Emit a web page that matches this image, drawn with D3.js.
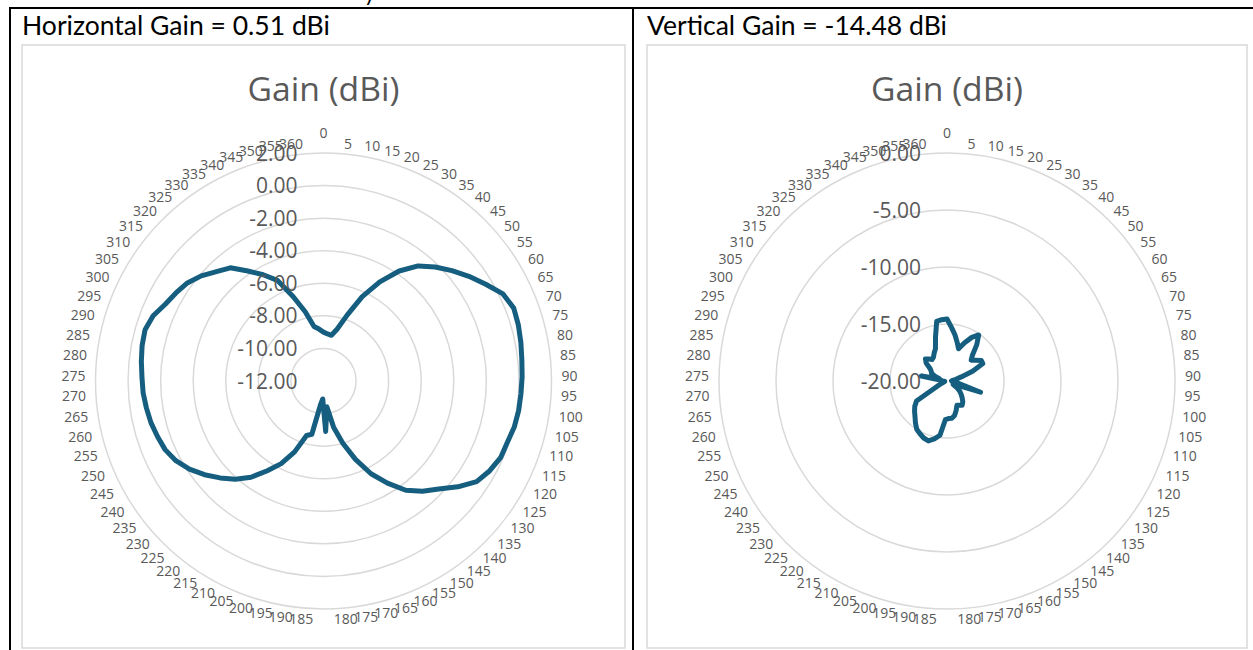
<!DOCTYPE html>
<html>
<head>
<meta charset="utf-8">
<script src="https://cdn.jsdelivr.net/npm/d3@7"></script>
<style>
  html, body { margin: 0; padding: 0; background: #ffffff; }
  svg { display: block; }
</style>
</head>
<body>
<svg id="chart" width="1253" height="650"></svg>
<script>
// ---------------- DATA ----------------
const categories = [0,5,10,15,20,25,30,35,40,45,50,55,60,65,70,75,80,85,90,95,100,105,110,115,120,125,130,135,140,145,150,155,160,165,170,175,180,185,190,195,200,205,210,215,220,225,230,235,240,245,250,255,260,265,270,275,280,285,290,295,300,305,310,315,320,325,330,335,340,345,350,355,360];

const horizontalGain = [-9.0,-9.1,-9.15,-8.7,-7.7,-6.3,-5.0,-3.8,-2.85,-2.2,-1.6,-1.0,-0.4,0.25,0.51,0.45,0.35,0.25,0.2,0.15,0.12,0.05,-0.1,-0.15,-0.4,-0.75,-1.5,-2.3,-2.9,-3.6,-4.6,-5.6,-6.8,-8.0,-9.1,-10.4,-8.9,-10.9,-10.5,-8.65,-8.5,-7.3,-6.3,-5.5,-4.6,-3.9,-3.3,-2.7,-2.15,-1.7,-1.4,-1.25,-1.1,-1.0,-0.9,-0.85,-0.75,-0.65,-0.6,-0.8,-1.2,-1.45,-1.7,-2.1,-2.6,-3.0,-3.8,-4.5,-5.2,-6.5,-7.6,-8.6,-8.8];

const verticalGain = [-14.56,-15.3,-15.9,-16.5,-17.0,-16.3,-15.6,-15.1,-15.9,-16.8,-17.2,-16.9,-16.5,-16.5,-17.6,-18.7,-19.2,-19.5,-19.6,-19.5,-19.2,-18.75,-16.9,-19.2,-19.4,-19.0,-18.6,-18.3,-18.0,-17.7,-17.5,-17.6,-17.7,-17.3,-16.9,-16.7,-16.7,-16.6,-15.2,-14.8,-14.5,-14.6,-14.8,-15.0,-15.4,-15.8,-16.1,-16.4,-16.8,-19.0,-19.5,-19.7,-19.8,-19.8,-19.8,-19.6,-19.5,-17.7,-19.3,-18.9,-18.5,-18.4,-18.2,-17.6,-17.3,-17.5,-17.7,-17.6,-17.3,-17.0,-16.05,-14.7,-14.6];

const horizontalTicks = [-12,-10,-8,-6,-4,-2,0,2];
const verticalTicks = [-20,-15,-10,-5,0];

const panelHeaders = ["Horizontal Gain = 0.51 dBi", "Vertical Gain = -14.48 dBi"];
const chartTitle = "Gain (dBi)";

// ---------------- LAYOUT ----------------
const svg = d3.select("#chart");
const GREY_TXT = "#595959";
const GRID = "#d9d9d9";
const LINE = "#165e80";
const R = 228;

// table borders
svg.append("line").attr("x1", 9).attr("x2", 1253).attr("y1", 8).attr("y2", 8)
  .attr("stroke", "#000").attr("stroke-width", 2);
svg.append("line").attr("x1", 10).attr("x2", 10).attr("y1", 7).attr("y2", 650)
  .attr("stroke", "#000").attr("stroke-width", 2);
svg.append("line").attr("x1", 633).attr("x2", 633).attr("y1", 7).attr("y2", 650)
  .attr("stroke", "#000").attr("stroke-width", 2);

// descender of cut-off text above the table
svg.append("text").attr("x", 364).attr("y", 1)
  .attr("font-family", "Lato, 'Liberation Sans', sans-serif").attr("font-size", 22)
  .attr("fill", "#000").text("y");

function fitText(sel, width) {
  const len = sel.node().getComputedTextLength();
  const fs = parseFloat(sel.attr("font-size"));
  sel.attr("font-size", fs * width / len);
}

function panel(opts) {
  const { boxX, boxW, header, headerW, data, ticks } = opts;
  const g = svg.append("g");
  const h = g.append("text").attr("x", boxX).attr("y", 35)
    .attr("font-family", "Lato, 'Liberation Sans', sans-serif").attr("font-size", 22)
    .attr("fill", "#000").text(header);
  fitText(h, headerW);

  // chart area border
  g.append("rect").attr("x", boxX).attr("y", 45).attr("width", boxW).attr("height", 603)
    .attr("fill", "#fff").attr("stroke", GRID).attr("stroke-width", 1.5);

  const cx = boxX + boxW / 2, cy = 381;

  const t = g.append("text").attr("x", cx).attr("y", 101).attr("text-anchor", "middle")
    .attr("font-family", "'Open Sans', sans-serif").attr("font-size", 30)
    .attr("fill", GREY_TXT).text(chartTitle);
  fitText(t, 152);

  const rScale = d3.scaleLinear().domain(d3.extent(ticks)).range([0, R]);
  const aScale = d3.scaleLinear().domain([0, categories.length]).range([0, 2 * Math.PI]);

  const c = g.append("g").attr("transform", `translate(${cx},${cy})`);

  // rings
  c.selectAll("circle.ring").data(ticks.filter(v => rScale(v) > 0)).join("circle")
    .attr("class", "ring").attr("r", d => rScale(d))
    .attr("fill", "none").attr("stroke", GRID).attr("stroke-width", 1.5);

  // category labels
  const LR = R + 10;
  c.selectAll("text.cat").data(categories).join("text")
    .attr("class", "cat")
    .attr("x", (d, i) => LR * Math.sin(aScale(i)))
    .attr("y", (d, i) => i === 0 ? -LR - 5 : -LR * Math.cos(aScale(i)))
    .attr("dy", (d, i) => i === 0 ? 0 : "0.35em")
    .attr("text-anchor", (d, i) => i === 0 ? "middle" : (Math.sin(aScale(i)) > 0 ? "start" : "end"))
    .attr("font-family", "'Open Sans', sans-serif").attr("font-size", 14)
    .attr("fill", GREY_TXT).text(d => d);

  // series line
  const line = d3.lineRadial()
    .angle((d, i) => aScale(i))
    .radius(d => rScale(d))
    .curve(d3.curveLinearClosed);
  c.append("path").datum(data).attr("d", line)
    .attr("fill", "none").attr("stroke", LINE).attr("stroke-width", 5)
    .attr("stroke-linejoin", "round").attr("stroke-linecap", "round");

  // value axis labels
  c.selectAll("text.val").data(ticks).join("text")
    .attr("class", "val")
    .attr("x", -26).attr("y", d => -rScale(d)).attr("dy", "0.36em")
    .attr("text-anchor", "end")
    .attr("font-family", "'Open Sans', sans-serif").attr("font-size", 21)
    .attr("fill", GREY_TXT).text(d => d.toFixed(2));
}

panel({ boxX: 22, boxW: 603, header: panelHeaders[0], headerW: 308, data: horizontalGain, ticks: horizontalTicks });
panel({ boxX: 647, boxW: 600, header: panelHeaders[1], headerW: 300, data: verticalGain, ticks: verticalTicks });
</script>
</body>
</html>
